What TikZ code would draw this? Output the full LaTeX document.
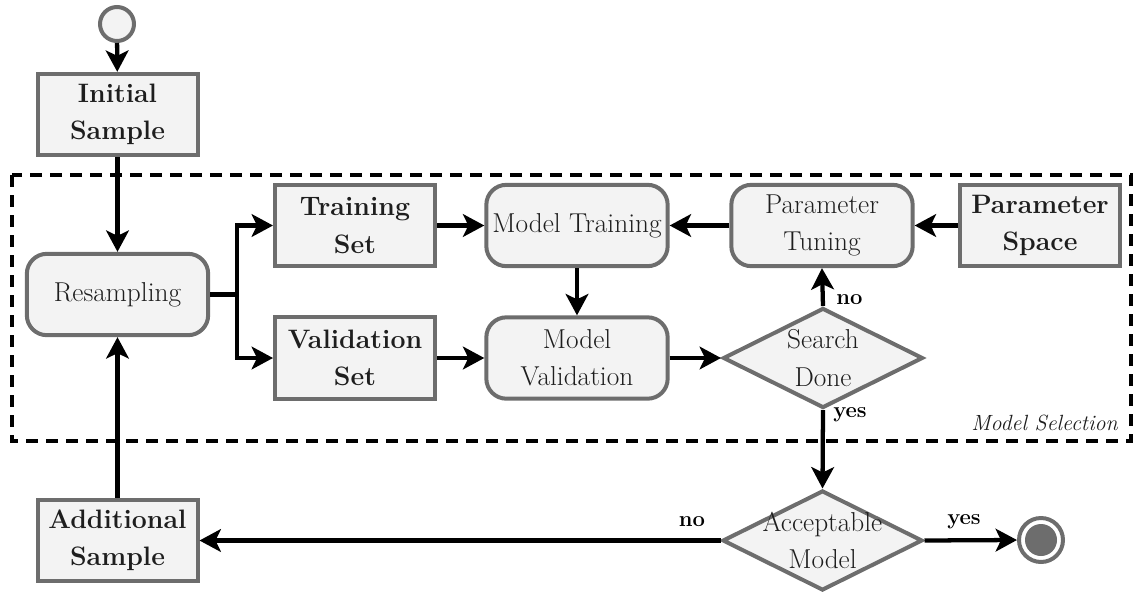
\documentclass[tikz,border=0pt]{standalone}
\usepackage{fontspec}
\usetikzlibrary{shapes.geometric,arrows.meta}
\definecolor{boxfill}{HTML}{F3F3F3}
\definecolor{boxline}{HTML}{6D6D6D}
\definecolor{txt}{HTML}{1E1E1E}
\begin{document}
\begin{tikzpicture}[x=0.75pt,y=-0.75pt,
  base/.style={draw=boxline, fill=boxfill, line width=3pt, text=txt, align=center,
    inner sep=0pt, minimum height=61pt, font=\fontsize{20.5}{28}\selectfont},
  databox/.style={base, rectangle, minimum width=120pt,
    font=\fontsize{20}{28}\selectfont\bfseries},
  actbox/.style={base, rectangle, rounded corners=15pt, minimum width=136pt},
  decision/.style={draw=boxline, fill=boxfill, line width=3pt, diamond,
    inner sep=0pt, minimum width=150pt, minimum height=75pt},
  dtext/.style={text=txt, align=center, inner sep=0pt, font=\fontsize{20.5}{28}\selectfont},
  guard/.style={text=black, inner sep=0pt, font=\fontsize{16.5}{20}\selectfont\bfseries},
  flow/.style={line width=3.2pt, -{Stealth[length=16pt,width=17pt,inset=4pt]}},
  frame/.style={line width=3.2pt, dash pattern=on 9pt off 6pt},
]
\useasboundingbox (0,0) rectangle (1136,594);

% model selection frame
\draw[frame] (12,175) rectangle (1131,441);
\node[anchor=east, text=txt, inner sep=0pt, font=\fontsize{16.5}{20}\selectfont\itshape]
  (msel) at (1118,423) {Model Selection};

% start / end
\node[circle, draw=boxline, fill=boxfill, line width=3pt, minimum size=25.5pt, inner sep=0pt] (start) at (117,24) {};
\node[circle, draw=boxline, fill=white, line width=3pt, minimum size=33pt, inner sep=0pt] (stop) at (1041,540) {};
\fill[boxline] (stop.center) circle (12pt);

% nodes
\node[databox] (init) at (117.5,114.5) {Initial\\Sample};
\node[actbox]  (res) at (117.5,294.5) {Resampling};
\node[databox] (train) at (355,225.5) {Training\\Set};
\node[databox] (valid) at (355,358) {Validation\\Set};
\node[actbox]  (mtrain) at (577,225.5) {Model Training};
\node[actbox]  (mvalid) at (577,358) {Model\\Validation};
\node[actbox]  (ptune) at (822,225.5) {Parameter\\Tuning};
\node[databox] (pspace) at (1040,225.5) {Parameter\\Space};
\node[decision] (search) at (823,358) {};
\node[dtext] at (search) {Search\\Done};
\node[decision] (acc) at (822.5,540.5) {};
\node[dtext] at (acc) {Acceptable\\Model};
\node[databox] (add) at (117.5,540.5) {Additional\\Sample};

% connectors
\coordinate (split) at (237,294.5);
\draw[flow] (start) -- (init);
\draw[flow] (init) -- (res);
\draw[flow] (res.east) -- (split) |- (train.west);
\draw[flow] (split) |- (valid.west);
\draw[flow] (train) -- (mtrain);
\draw[flow] (valid) -- (mvalid);
\draw[flow] (mtrain) -- (mvalid);
\draw[flow] (mvalid.east) -- (search.west);
\draw[flow] (search.north) -- (ptune.south);
\draw[flow] (pspace) -- (ptune);
\draw[flow] (ptune) -- (mtrain);
\draw[flow] (search.south) -- (acc.north);
\draw[flow] (acc.west) -- (add.east);
\draw[flow] (acc.east) -- (stop.west);
\draw[flow] (add) -- (res);

% guards
\node[guard, anchor=west] (gno1) at (836,300) {no};
\node[guard, anchor=west] (gyes1) at (833,415) {yes};
\node[guard] (gno2) at (692,522) {no};
\node[guard] (gyes2) at (964,522) {yes};
\end{tikzpicture}
\end{document}
